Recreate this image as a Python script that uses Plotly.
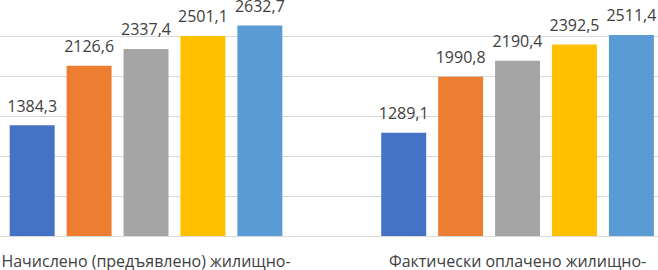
import plotly.graph_objects as go

categories = ["Начислено (предъявлено) жилищно-", "Фактически оплачено жилищно-"]
series_names = ["Ряд 1", "Ряд 2", "Ряд 3", "Ряд 4", "Ряд 5"]
s1 = [1384.3, 1289.1]
s2 = [2126.6, 1990.8]
s3 = [2337.4, 2190.4]
s4 = [2501.1, 2392.5]
s5 = [2632.7, 2511.4]
all_series = [s1, s2, s3, s4, s5]
colors = ["#4472C4", "#ED7D31", "#A5A5A5", "#FFC000", "#5B9BD5"]

fig = go.Figure()
for name, vals, col in zip(series_names, all_series, colors):
    fig.add_trace(go.Bar(
        x=[0, 1], y=vals, name=name, marker_color=col, marker_line_width=0,
        hoverinfo="skip",
    ))
for name, vals in zip(series_names, all_series):
    fig.add_trace(go.Scatter(
        x=[0, 1], y=vals, name=name, mode="markers+text",
        marker=dict(size=14, opacity=0), texttemplate="%{y:.1f}",
        textposition="top center", cliponaxis=False, hoverinfo="skip",
        textfont=dict(family="Open Sans", size=16, color="#404040"),
    ))

fig.update_layout(
    width=658, height=270,
    margin=dict(l=0, r=0, t=0, b=34, pad=0, autoexpand=False),
    paper_bgcolor="white", plot_bgcolor="white",
    barmode="group", bargap=0.234, bargroupgap=0.21,
    scattermode="group", scattergap=0.234,
    separators=", ",
    showlegend=False,
    xaxis=dict(tickmode="array", tickvals=[0, 1], ticktext=categories,
               range=[-0.393, 1.378], showgrid=False, showline=False,
               automargin=False,
               tickfont=dict(family="Open Sans", size=16, color="#404040"),
               ticks="", ticklabelstandoff=14),
    yaxis=dict(range=[0, 2950], dtick=500, showgrid=True, gridcolor="#D9D9D9",
               gridwidth=1, showticklabels=False, zeroline=True, automargin=False,
               zerolinecolor="#D9D9D9", zerolinewidth=1),
)

fig.write_html("out.html", config={"displayModeBar": False},
               post_script="document.body.style.margin='0';document.body.style.overflow='hidden';")
